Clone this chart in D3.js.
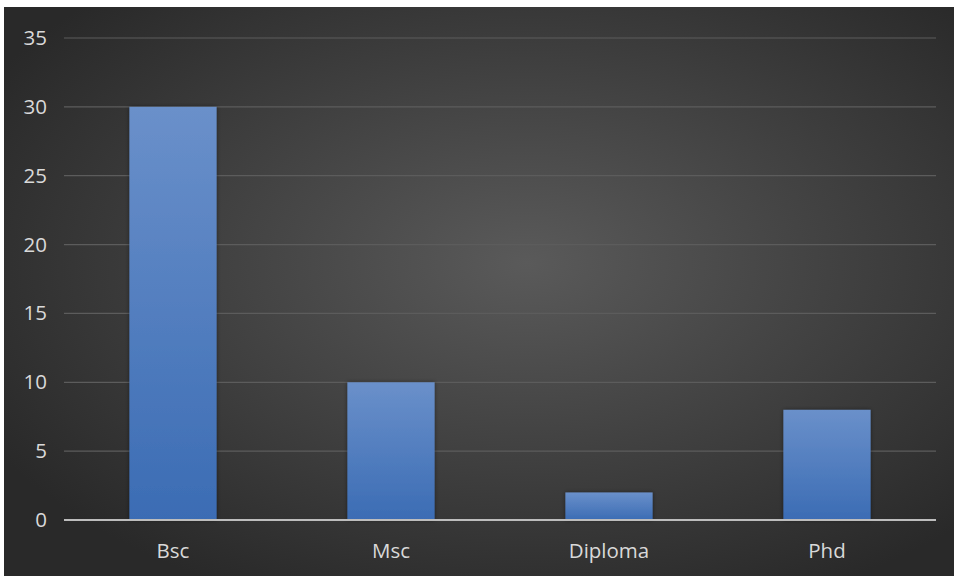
<!DOCTYPE html>
<html>
<head>
<meta charset="utf-8">
<script src="https://cdn.jsdelivr.net/npm/d3@7"></script>
<style>
  html, body { margin: 0; padding: 0; background: #ffffff; }
  svg { display: block; }
</style>
</head>
<body>
<svg id="chart" width="954" height="576"></svg>
<script>
// Qualification counts
const categories = ["Bsc", "Msc", "Diploma", "Phd"];
const counts = [30, 10, 2, 8];
const yTicks = [0, 5, 10, 15, 20, 25, 30, 35];

const W = 954, H = 576;
const svg = d3.select("#chart");
const defs = svg.append("defs");

// Dark panel with a soft radial glow
const bg = defs.append("radialGradient").attr("id", "bgGrad")
  .attr("cx", "55%").attr("cy", "45%").attr("r", "65%");
bg.append("stop").attr("offset", "0%").attr("stop-color", "#5a5a5a");
bg.append("stop").attr("offset", "100%").attr("stop-color", "#292929");

// Bar fill: lighter at the top, deeper blue at the base
const barGrad = defs.append("linearGradient").attr("id", "barGrad")
  .attr("x1", 0).attr("y1", 0).attr("x2", 0).attr("y2", 1);
barGrad.append("stop").attr("offset", "0%").attr("stop-color", "#6a90ca");
barGrad.append("stop").attr("offset", "100%").attr("stop-color", "#3b6cb4");

const shadow = defs.append("filter").attr("id", "barShadow")
  .attr("x", "-20%").attr("y", "-20%").attr("width", "140%").attr("height", "140%");
shadow.append("feDropShadow").attr("dx", 0).attr("dy", 0).attr("stdDeviation", 2)
  .attr("flood-color", "#000").attr("flood-opacity", 0.45);

svg.append("rect").attr("x", 4).attr("y", 7).attr("width", W - 4).attr("height", H - 7)
  .attr("fill", "url(#bgGrad)");

const margin = { left: 64, right: 18, top: 38, bottom: 56 };
const x = d3.scaleBand().domain(categories)
  .range([margin.left, W - margin.right]).paddingInner(0.6).paddingOuter(0.3);
const y = d3.scaleLinear().domain([0, 35]).range([H - margin.bottom, margin.top]);

const fontFamily = "'Open Sans', sans-serif";

// Gridlines
svg.append("g").selectAll("line").data(yTicks.filter(d => d > 0)).join("line")
  .attr("x1", margin.left).attr("x2", W - margin.right)
  .attr("y1", d => y(d)).attr("y2", d => y(d))
  .attr("stroke", "#5c5c5c").attr("stroke-width", 1.2);

// Y-axis labels
const yAxis = d3.axisLeft(y).tickValues(yTicks).tickSize(0).tickPadding(17);
const gy = svg.append("g").attr("transform", `translate(${margin.left},0)`).call(yAxis);
gy.select(".domain").remove();
gy.selectAll("text").attr("fill", "#d9d9d9")
  .style("font-family", fontFamily).style("font-size", "20.5px");

// Bars
svg.append("g").selectAll("rect").data(categories).join("rect")
  .attr("x", d => x(d))
  .attr("y", (d, i) => y(counts[i]))
  .attr("width", x.bandwidth())
  .attr("height", (d, i) => y(0) - y(counts[i]))
  .attr("fill", "url(#barGrad)")
  .attr("filter", "url(#barShadow)");

// X-axis baseline and labels
const xAxis = d3.axisBottom(x).tickSize(0).tickPadding(23);
const gx = svg.append("g").attr("transform", `translate(0,${y(0)})`).call(xAxis);
gx.select(".domain").attr("stroke", "#bdbdbd").attr("stroke-width", 2.2)
  .attr("d", `M${margin.left},0H${W - margin.right}`);
gx.selectAll("text").attr("fill", "#d9d9d9")
  .style("font-family", fontFamily).style("font-size", "20.5px");
</script>
</body>
</html>
